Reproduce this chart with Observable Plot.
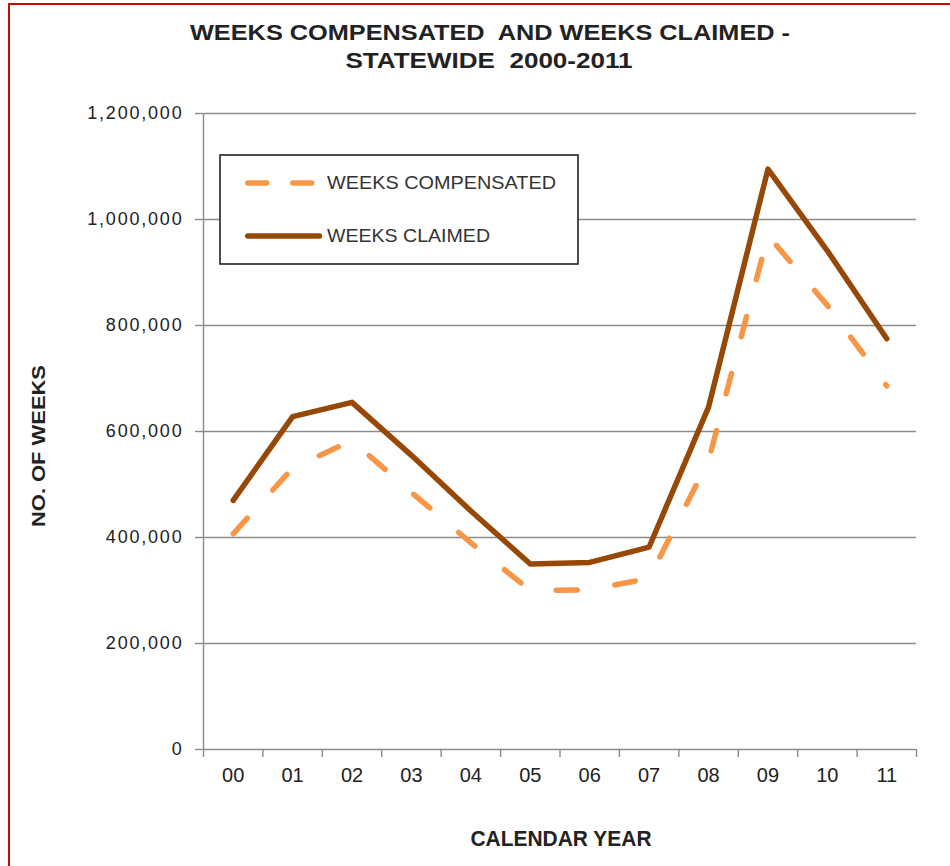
<!DOCTYPE html>
<html>
<head>
<meta charset="utf-8">
<script src="https://cdn.jsdelivr.net/npm/d3@7"></script>
<script src="https://cdn.jsdelivr.net/npm/@observablehq/plot@0.6"></script>
<style>
  html, body { margin: 0; padding: 0; background: #fff; }
  #wrap { position: relative; width: 950px; height: 866px; overflow: hidden; background: #fff; }
  #frame { position: absolute; left: 8px; top: 3px; right: -10px; bottom: -10px;
           border-left: 2.5px solid #cc0a0a; border-top: 2px solid #cc0a0a; pointer-events: none; }
  svg text { font-family: "Liberation Sans", Arial, sans-serif; }
  g[aria-label="y-axis tick label"] text { letter-spacing: 1.8px; }
</style>
</head>
<body>
<div id="wrap"><div id="frame"></div></div>
<script>
// ---- data ----
const years = ["00","01","02","03","04","05","06","07","08","09","10","11"];
const weeksClaimed = [470000, 628000, 655000, 555000, 450000, 350000, 353000, 382000, 646000, 1095000, 941000, 775000];
const weeksCompensated = [407000, 531000, 583000, 485000, 390000, 300000, 301000, 323000, 545000, 970000, 838000, 686000];
const yTicks = [0, 200000, 400000, 600000, 800000, 1000000, 1200000];
const titleLines = ["WEEKS COMPENSATED  AND WEEKS CLAIMED -", "STATEWIDE  2000-2011"];
const seriesNames = ["WEEKS COMPENSATED", "WEEKS CLAIMED"];
const xTitle = "CALENDAR YEAR";
const yTitle = "NO. OF WEEKS";

const claimedColor = "#974807";
const compColor = "#F79646";
const gridColor = "#8c8c8c";

const idx = years.map((_, i) => i);
const claimedData = idx.map(i => ({i, v: weeksClaimed[i]}));
const compData = idx.map(i => ({i, v: weeksCompensated[i]}));
const bounds = d3.range(years.length + 1).map(i => i - 0.5);

const chart = Plot.plot({
  width: 950,
  height: 866,
  marginLeft: 203,
  marginRight: 34,
  marginTop: 113,
  marginBottom: 117,
  style: {fontFamily: "Liberation Sans, Arial, sans-serif", background: "transparent"},
  x: {domain: [-0.5, years.length - 0.5]},
  y: {domain: [0, 1200000]},
  marks: [
    Plot.gridY(yTicks, {stroke: gridColor, strokeOpacity: 1, strokeWidth: 1.4}),
    Plot.ruleX([-0.5], {stroke: gridColor, strokeWidth: 1.4}),
    Plot.axisY(yTicks, {tickSize: 8, tickPadding: 12, stroke: gridColor, strokeWidth: 1.4, fill: "#222",
      fontSize: 18, tickFormat: d => d3.format(",")(d), label: null}),
    Plot.axisX(bounds, {tickSize: 8, stroke: gridColor, strokeWidth: 1.4, tickFormat: () => "", label: null}),
    Plot.axisX(idx, {tickSize: 0, tickPadding: 18, fill: "#222", fontSize: 20,
      tickFormat: i => years[i], label: null}),
    Plot.line(compData, {x: "i", y: "v", stroke: compColor, strokeWidth: 5.5,
      strokeDasharray: "21,38", strokeLinecap: "round", strokeLinejoin: "round"}),
    Plot.line(claimedData, {x: "i", y: "v", stroke: claimedColor, strokeWidth: 5.5,
      strokeLinecap: "round", strokeLinejoin: "round"})
  ]
});

document.getElementById("wrap").prepend(chart);

// ---- titles and legend added as real text into the same SVG ----
const svg = d3.select(chart);
const ann = svg.append("g").attr("class", "annotations");

function addText(g, str, opts) {
  const t = g.append("text").text(str)
    .attr("x", opts.x).attr("y", opts.y)
    .attr("text-anchor", opts.anchor || "middle")
    .attr("font-size", opts.size)
    .attr("font-weight", opts.weight || "normal")
    .attr("fill", opts.fill || "#222")
    .style("font-family", opts.family || "Liberation Sans, Arial, sans-serif")
    .style("white-space", "pre")
    .attr("xml:space", "preserve");
  if (opts.len) t.attr("textLength", opts.len).attr("lengthAdjust", "spacingAndGlyphs");
  if (opts.transform) t.attr("transform", opts.transform);
  return t;
}

const narrow = "'Liberation Sans Narrow', 'Arial Narrow', 'Liberation Sans', Arial, sans-serif";
addText(ann, titleLines[0], {x: 490, y: 40, size: 22, weight: "bold", family: narrow, len: 600});
addText(ann, titleLines[1], {x: 489, y: 68, size: 22, weight: "bold", family: narrow, len: 287});
addText(ann, xTitle, {x: 561, y: 846, size: 22, weight: "bold", family: narrow, len: 181});
addText(ann, yTitle, {x: 0, y: 0, size: 19, weight: "bold", len: 162,
  transform: "translate(45,446) rotate(-90)"});

// legend
const lg = ann.append("g");
lg.append("rect").attr("x", 220).attr("y", 155).attr("width", 358).attr("height", 109)
  .attr("fill", "#fff").attr("stroke", "#222").attr("stroke-width", 1.6);
lg.append("line").attr("x1", 247.75).attr("x2", 312).attr("y1", 183).attr("y2", 183)
  .attr("stroke", compColor).attr("stroke-width", 5.5).attr("stroke-dasharray", "19,26")
  .attr("stroke-linecap", "round");
lg.append("line").attr("x1", 247.75).attr("x2", 319.5).attr("y1", 236).attr("y2", 236)
  .attr("stroke", claimedColor).attr("stroke-width", 5.5).attr("stroke-linecap", "round");
addText(lg, seriesNames[0], {x: 327, y: 189, size: 18, anchor: "start", fill: "#333", len: 229});
addText(lg, seriesNames[1], {x: 327, y: 242, size: 18, anchor: "start", fill: "#333", len: 163});
</script>
</body>
</html>
